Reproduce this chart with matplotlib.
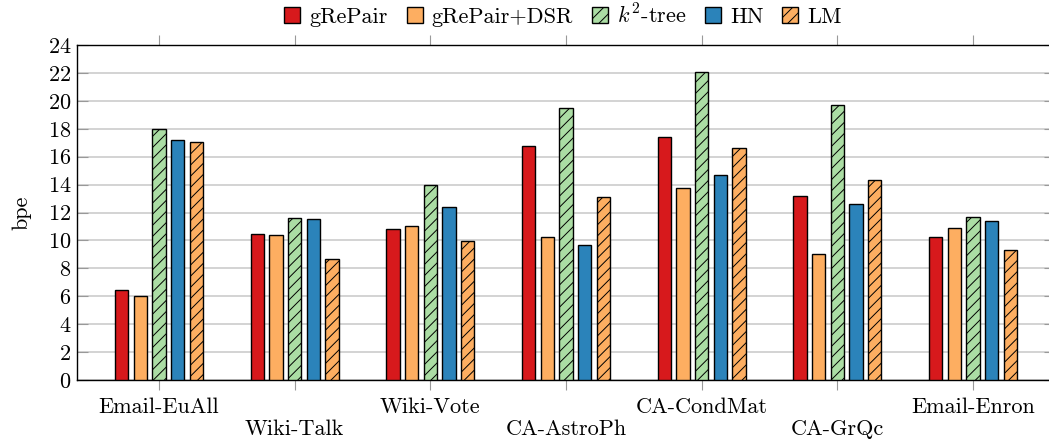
import numpy as np
import matplotlib
matplotlib.use("Agg")
import matplotlib.pyplot as plt
from matplotlib.patches import Patch

plt.rcParams["font.family"] = ["cmr10", "DejaVu Serif"]
plt.rcParams["mathtext.fontset"] = "cm"
plt.rcParams["axes.formatter.use_mathtext"] = True
plt.rcParams["hatch.linewidth"] = 0.7

datasets = ["Email-EuAll", "Wiki-Talk", "Wiki-Vote", "CA-AstroPh",
            "CA-CondMat", "CA-GrQc", "Email-Enron"]
methods = ["gRePair", "gRePair+DSR", r"$k^2$-tree", "HN", "LM"]

grepair = [6.45, 10.43, 10.8, 16.76, 17.41, 13.2, 10.27]
grepair_dsr = [6.0, 10.4, 11.05, 10.27, 13.75, 9.05, 10.91]
k2_tree = [17.95, 11.6, 13.95, 19.5, 22.09, 19.67, 11.7]
hn = [17.2, 11.55, 12.4, 9.65, 14.71, 12.58, 11.39]
lm = [17.05, 8.7, 9.95, 13.09, 16.64, 14.33, 9.29]

series = [grepair, grepair_dsr, k2_tree, hn, lm]
colors = ["#d7191c", "#fdae61", "#abdda4", "#2b83ba", "#fdae61"]
hatches = [None, None, "///", None, "///"]

fs = 16

fig = plt.figure(figsize=(10.49, 4.45), dpi=100)
W, H = 1049, 445
left, right, top, bottom = 77, 1055, 45, 380
ax = fig.add_axes([left / W, 1 - bottom / H, (right - left) / W, (bottom - top) / H])

x = np.arange(len(datasets))
width = 0.098
step = 0.138
for i, (vals, c, h) in enumerate(zip(series, colors, hatches)):
    ax.bar(x + (i - 2) * step, vals, width=width, color=c, edgecolor="black",
           linewidth=1.0, hatch=h, zorder=3, label=methods[i])

ax.set_xlim(-0.604, 6.604)
ax.set_ylim(0, 24)
ax.set_yticks(np.arange(0, 25, 2))
ax.set_xticks(x)
ax.set_xticklabels(datasets)
ax.grid(axis="y", color="#cccccc", linewidth=1.2, zorder=0)
ax.set_axisbelow(True)

ax.tick_params(axis="x", direction="out", length=7.5, width=0.8, color="#999999",
               top=True, labelsize=fs, pad=5)
ax.tick_params(axis="y", direction="in", length=8, width=0.8, color="#999999",
               right=True, labelsize=fs, pad=4)
for t in ax.xaxis.get_major_ticks()[1::2]:
    t.set_pad(21)

for s in ax.spines.values():
    s.set_linewidth(1.0)

ax.set_ylabel("bpe", fontsize=fs, labelpad=12)

handles = [Patch(facecolor=c, edgecolor="black", hatch=h, linewidth=1.0)
           for c, h in zip(colors, hatches)]
fig.legend(handles, methods, loc="center", bbox_to_anchor=(563 / W, 1 - 15 / H),
           ncol=5, frameon=False, fontsize=fs, handlelength=0.72, handleheight=0.72,
           handletextpad=0.4, columnspacing=0.85, borderaxespad=0)

fig.savefig("out.png", dpi=100)
